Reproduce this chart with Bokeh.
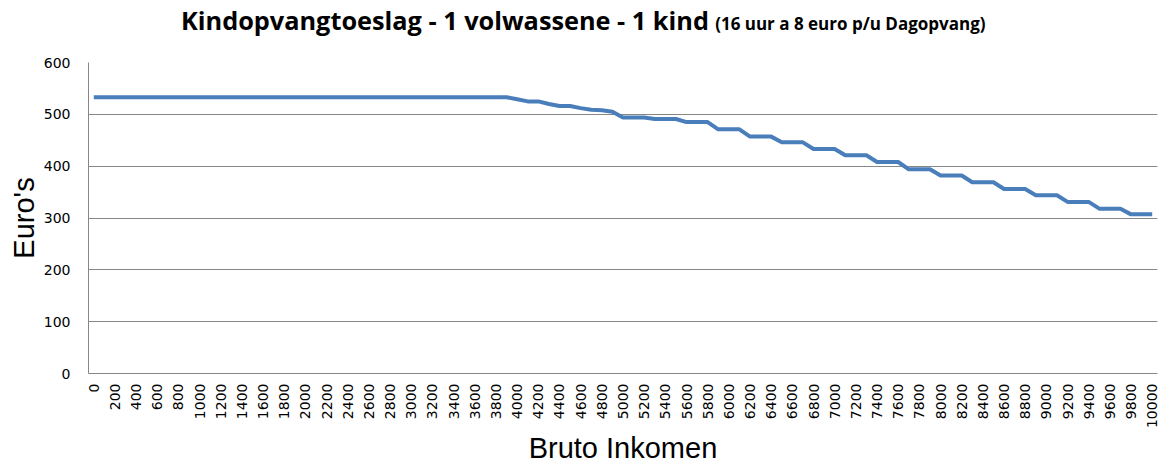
from bokeh.plotting import figure
from bokeh.models import Range1d, FixedTicker, Div
from bokeh.layouts import column
from bokeh.embed import file_html
from bokeh.resources import INLINE
import math

# ---- data ----
incomes = list(range(0, 10001, 100))
toeslag = [
    533, 533, 533, 533, 533, 533, 533, 533, 533, 533,
    533, 533, 533, 533, 533, 533, 533, 533, 533, 533,
    533, 533, 533, 533, 533, 533, 533, 533, 533, 533,
    533, 533, 533, 533, 533, 533, 533, 533, 533, 533,
    529, 525, 525, 520, 516, 516, 512, 509, 508, 505,
    494, 494, 494, 491, 491, 491, 485, 485, 485, 471,
    471, 471, 457, 457, 457, 446, 446, 446, 433, 433,
    433, 421, 421, 421, 408, 408, 408, 394, 394, 394,
    382, 382, 382, 369, 369, 369, 356, 356, 356, 344,
    344, 344, 331, 331, 331, 318, 318, 318, 307, 307,
    307,
]
x_ticks = list(range(0, 10001, 200))
y_ticks = [0, 100, 200, 300, 400, 500, 600]
title_main = "Kindopvangtoeslag - 1 volwassene - 1 kind"
title_sub = "(16 uur a 8 euro p/u Dagopvang)"
x_label = "Bruto Inkomen"
y_label = "Euro's"

GRID = "#878787"

title = Div(
    text=(f'<div style="font-family:\'Open Sans\';font-weight:bold;color:black;'
          f'white-space:nowrap;padding-left:181px;padding-top:5px;line-height:30px">'
          f'<span style="font-size:25.3px">{title_main}</span>&nbsp;&nbsp;'
          f'<span style="font-size:17px">{title_sub}</span></div>'),
    width=1160, height=46, margin=(0, 0, 0, 0),
)

p = figure(
    width=1160, height=421,
    x_range=Range1d(-50, 10050),
    y_range=Range1d(0, 600),
    output_backend="svg", toolbar_location=None,
    min_border_left=88, min_border_right=3, min_border_top=16, min_border_bottom=94,
    margin=(0, 0, 0, 0),
)
p.outline_line_color = None

p.line(x=incomes, y=toeslag, line_color="#4a7ebb", line_width=4, line_join="round")

# y axis
p.yaxis.ticker = FixedTicker(ticks=y_ticks)
p.yaxis.axis_line_color = GRID
p.yaxis.major_tick_line_color = None
p.yaxis.minor_tick_line_color = None
p.yaxis.major_label_standoff = 12
p.yaxis.major_label_text_font = "DejaVu Sans"
p.yaxis.major_label_text_font_size = "14px"
p.yaxis.major_label_text_color = "black"
p.yaxis.axis_label = y_label
p.yaxis.axis_label_text_font = "Liberation Sans"
p.yaxis.axis_label_text_font_size = "29px"
p.yaxis.axis_label_text_font_style = "normal"
p.yaxis.axis_label_text_color = "black"
p.yaxis.axis_label_standoff = 1

# x axis
p.xaxis.ticker = FixedTicker(ticks=x_ticks)
p.xaxis.axis_line_color = GRID
p.xaxis.major_tick_line_color = None
p.xaxis.minor_tick_line_color = None
p.xaxis.major_label_orientation = math.pi / 2
p.xaxis.major_label_standoff = 4
p.xaxis.major_label_text_font = "DejaVu Sans"
p.xaxis.major_label_text_font_size = "14px"
p.xaxis.major_label_text_color = "black"
p.xaxis.axis_label = x_label
p.xaxis.axis_label_text_font = "Liberation Sans"
p.xaxis.axis_label_text_font_size = "29px"
p.xaxis.axis_label_text_font_style = "normal"
p.xaxis.axis_label_text_color = "black"
p.xaxis.axis_label_standoff = 1

p.xgrid.grid_line_color = None
p.ygrid.grid_line_color = GRID
p.ygrid.grid_line_width = 1

open("out.html", "w").write(file_html(column(title, p, spacing=0), INLINE))
